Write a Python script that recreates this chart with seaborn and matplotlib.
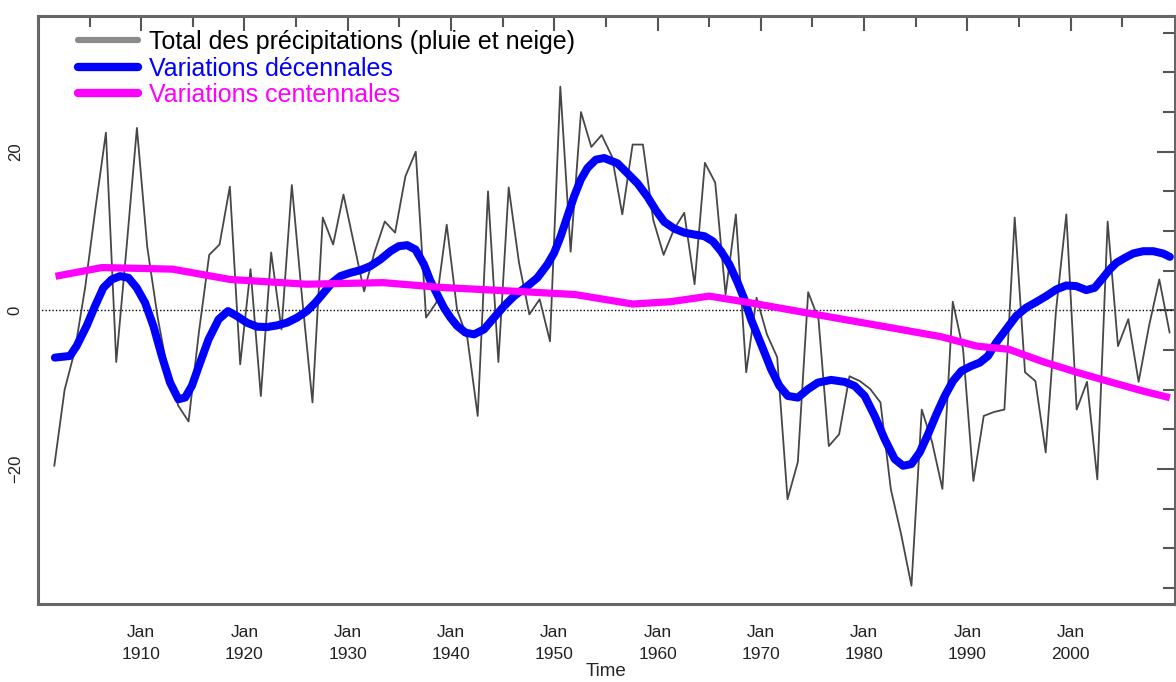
import numpy as np
import pandas as pd
import matplotlib

matplotlib.use('Agg')
import matplotlib.pyplot as plt
import matplotlib.dates as mdates
from matplotlib.lines import Line2D
import seaborn as sns

# Total des précipitations, anomalies annuelles 1901-2009
years = np.arange(1901, 2010)
precip = [
    -19.6, -10, -5, 3, 13, 22.4, -6.5, 8, 23, 8,
    -0.8, -7.8, -12, -14, -2.8, 7, 8.3, 15.6, -6.8, 5.2,
    -10.8, 7.3, -2.4, 15.8, 1.5, -11.6, 11.7, 8.3, 14.6, 8.5,
    2.4, 7.3, 11.2, 9.8, 16.9, 20, -0.9, 1, 10.8, 0.1,
    -3.5, -13.3, 15, -6.5, 15.5, 6, -0.5, 1.4, -3.9, 28.2,
    7.4, 25, 20.6, 22.1, 19.4, 12.1, 20.9, 20.9, 11.4, 7,
    10.2, 12.3, 3.3, 18.6, 16.1, 2, 12.1, -7.8, 1.6, -3,
    -5.9, -23.8, -19.1, 2.3, -1.1, -17.1, -15.6, -8.3, -8.9, -9.9,
    -11.6, -22.5, -28.2, -34.7, -12.5, -16.6, -22.5, 1.1, -4.9, -21.5,
    -13.3, -12.8, -12.5, 11.7, -7.8, -8.9, -17.9, 0, 12.1, -12.5,
    -9, -21.3, 11.2, -4.5, -1.1, -9, -2, 3.9, -2.8,
]

# Variations décennales (courbe lissée)
dec_t = [1901.64, 1903.1, 1903.74, 1904.71, 1905.52, 1906.33, 1907.14, 1907.95, 1908.76, 1909.56,
         1910.37, 1911.18, 1911.99, 1912.79, 1913.6, 1914.25, 1914.9, 1915.7, 1916.52, 1917.49,
         1918.4, 1919.26, 1920.23, 1921.2, 1922.17, 1923.14, 1924.11, 1925.08, 1926.05, 1926.86,
         1927.67, 1928.48, 1929.28, 1930.25, 1931.22, 1932.19, 1933.16, 1934.13, 1934.94, 1935.75,
         1936.56, 1937.37, 1938.01, 1938.66, 1939.31, 1939.95, 1940.6, 1941.41, 1942.22, 1943.19,
         1944.16, 1945.13, 1946.1, 1947.39, 1948.36, 1949.33, 1949.98, 1950.62, 1951.27, 1951.92,
         1952.56, 1953.21, 1954.02, 1954.83, 1955.6, 1956.12, 1957.09, 1958.06, 1959.03, 1959.84,
         1960.65, 1961.62, 1962.59, 1963.56, 1964.53, 1965.34, 1966.14, 1966.95, 1967.76, 1968.41,
         1969.05, 1969.7, 1970.35, 1970.99, 1971.8, 1972.61, 1973.58, 1974.55, 1975.52, 1976.81,
         1978.11, 1979.08, 1980.05, 1981.02, 1981.99, 1982.96, 1983.77, 1984.57, 1985.38, 1986.19,
         1987.0, 1987.81, 1988.61, 1989.42, 1990.39, 1991.2, 1992.0, 1992.78, 1993.75, 1994.72,
         1995.69, 1996.66, 1997.63, 1998.6, 1999.57, 2000.54, 2001.51, 2002.32, 2003.13, 2003.78,
         2004.43, 2005.24, 2006.05, 2007.02, 2008.0, 2008.95, 2009.6]
dec_v = [-5.95, -5.74, -4.49, -1.97, 0.54, 2.85, 3.9, 4.32, 4.11, 2.85,
         0.97, -1.97, -5.74, -9.09, -11.2, -10.98, -9.52, -6.58, -3.65, -1.13,
         -0.09, -0.71, -1.55, -2.05, -2.1, -1.89, -1.55, -0.92, -0.08, 0.97,
         2.22, 3.48, 4.32, 4.74, 5.07, 5.58, 6.42, 7.46, 8.09, 8.22,
         7.67, 5.8, 3.69, 2.01, 0.34, -0.92, -1.97, -2.81, -3.02, -2.39,
         -0.92, 0.54, 1.8, 3.06, 4.11, 5.79, 7.25, 9.35, 11.86, 14.38,
         16.48, 17.95, 19.0, 19.2, 18.8, 18.53, 17.27, 16.0, 14.3, 12.6,
         11.16, 10.3, 9.8, 9.56, 9.35, 8.72, 7.46, 5.79, 3.48, 1.38,
         -1.13, -3.23, -5.32, -7.42, -9.52, -10.78, -10.99, -9.94, -9.1, -8.76,
         -9.01, -9.52, -10.78, -13.3, -16.23, -18.74, -19.58, -19.37, -17.9, -15.6,
         -13.08, -10.78, -8.89, -7.63, -7.0, -6.58, -5.74, -4.07, -2.39, -0.71,
         0.34, 1.05, 1.8, 2.64, 3.14, 3.06, 2.56, 2.85, 4.11, 5.16,
         6.0, 6.62, 7.17, 7.46, 7.46, 7.17, 6.75]

# Variations centennales
cen_t = [1901.7, 1906.2, 1913.0, 1918.6, 1926.0, 1933.4, 1939.0, 1946.4, 1952.0, 1957.6,
         1961.3, 1965.0, 1968.8, 1974.4, 1981.8, 1987.4, 1990.9, 1994.0, 1997.4, 2000.6,
         2003.8, 2007.1, 2009.6]
cen_v = [4.3, 5.4, 5.2, 3.9, 3.3, 3.5, 2.9, 2.4, 2.0, 0.8,
         1.1, 1.8, 1.0, -0.3, -2.0, -3.3, -4.5, -4.9, -6.5, -7.8,
         -9.0, -10.2, -11.0]

labels = ["Total des précipitations (pluie et neige)",
          "Variations décennales",
          "Variations centennales"]
tick_years = list(range(1910, 2001, 10))
minor_years = list(range(1905, 2006, 10))


def to_dates(t):
    t = np.asarray(t, dtype=float)
    base = pd.to_datetime([f"{int(v)}-01-01" for v in t])
    return base + pd.to_timedelta((t % 1) * 365.25, unit="D")


sns.set_style("white")
plt.rcParams['font.family'] = ['Liberation Sans', 'DejaVu Sans']

fig = plt.figure(figsize=(11.76, 6.82), dpi=100)
ax = fig.add_axes([0.0323, 0.1144, 0.9667, 0.8621])

df_raw = pd.DataFrame({"date": pd.to_datetime([f"{y}-08-01" for y in years]), "val": precip})
df_dec = pd.DataFrame({"date": to_dates(dec_t), "val": dec_v})
df_cen = pd.DataFrame({"date": to_dates(cen_t), "val": cen_v})

ax.axhline(0, color="black", lw=1.0, ls=(0, (1, 1.5)), zorder=1)
sns.lineplot(data=df_raw, x="date", y="val", ax=ax, color="#474747", lw=1.3, zorder=2)
sns.lineplot(data=df_dec, x="date", y="val", ax=ax, color="#0000ff", lw=5.8,
             solid_capstyle="round", solid_joinstyle="round", zorder=3)
sns.lineplot(data=df_cen, x="date", y="val", ax=ax, color="#ff00ff", lw=5.2,
             solid_capstyle="butt", solid_joinstyle="round", zorder=4)

ax.set_xlim(pd.Timestamp("1900-01-01"), pd.Timestamp("2010-02-01"))
ax.set_ylim(-37, 37.1)

ax.set_xticks(pd.to_datetime([f"{y}-01-01" for y in tick_years]))
ax.set_xticks(pd.to_datetime([f"{y}-01-01" for y in minor_years]), minor=True)
ax.set_xticklabels([f"Jan\n{y}" for y in tick_years])
ax.set_yticks([-20, 0, 20])
ax.set_yticks(np.arange(-35, 36, 5), minor=True)

for lab in ax.get_xticklabels():
    lab.set_linespacing(1.6)
for lab in ax.get_yticklabels():
    lab.set_rotation(90)
    lab.set_va("center")

ax.tick_params(which="both", direction="in", top=True, right=True, color="#555555",
               width=1.5, labelcolor="#222222")
ax.tick_params(axis="x", which="major", length=11, pad=15, labelsize=12.5)
ax.tick_params(axis="x", which="minor", length=8)
ax.tick_params(axis="y", which="major", length=13, pad=11, labelsize=12)
ax.tick_params(axis="y", which="minor", length=9)

for s in ax.spines.values():
    s.set_color("#666666")
    s.set_linewidth(2.2)

ax.set_xlabel("Time", fontsize=13.5, labelpad=1)
ax.set_ylabel("")

handles = [Line2D([], [], color="#8c8c8c", lw=4.5),
           Line2D([], [], color="#0000ff", lw=6),
           Line2D([], [], color="#ff00ff", lw=6)]
leg = ax.legend(handles, labels, loc="upper left", bbox_to_anchor=(0.026, 0.993),
                frameon=False, fontsize=18, handlelength=2.4, handletextpad=0.45,
                labelspacing=0.1, borderaxespad=0)
for txt, c in zip(leg.get_texts(), ["black", "#0000ff", "#ff00ff"]):
    txt.set_color(c)

fig.savefig("out.png", dpi=100)
